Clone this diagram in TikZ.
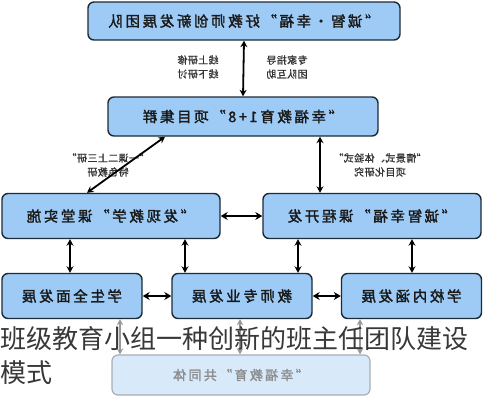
\documentclass[tikz,border=0pt]{standalone}
\usepackage{fontspec}
\usepackage{graphicx}
\usetikzlibrary{arrows.meta}
\newfontfamily\boxfont[LetterSpace=18,FakeBold=1.8]{Noto Sans CJK SC}
\newfontfamily\lblfont[LetterSpace=4,FakeBold=1.1]{Noto Sans CJK SC}
\newfontfamily\capfont{Noto Sans CJK SC}
\definecolor{boxfill}{HTML}{9DCBF6}
\definecolor{boxline}{HTML}{1E2A36}
\definecolor{fadefill}{HTML}{D8E9FA}
\definecolor{fadeline}{HTML}{A8AEB5}
\tikzset{
  bx/.style={draw=boxline,fill=boxfill,rounded corners=6pt,line width=1.4pt,inner sep=0pt,
    font=\boxfont\fontsize{14.5}{16}\selectfont,text=black!90},
  fadebx/.style={draw=fadeline,fill=fadefill,rounded corners=6pt,line width=1.2pt,inner sep=0pt,
    font=\boxfont\fontsize{13}{14}\selectfont,text=black!45},
  lbl/.style={font=\lblfont\fontsize{10}{14}\selectfont,text=black!80,align=center,inner sep=0pt},
  arr/.style={line width=1.8pt,draw=black,{Stealth[length=6.5pt,width=7pt]}-{Stealth[length=6.5pt,width=7pt]}},
  harr/.style={line width=2.2pt,draw=black,{Stealth[length=7pt,width=8pt]}-{Stealth[length=7pt,width=8pt]}},
  garr/.style={line width=1.7pt,draw=black!40,{Stealth[length=6pt,width=6.5pt]}-{Stealth[length=6pt,width=6.5pt]}},
}
\begin{document}
\begin{tikzpicture}[x=1pt,y=-1pt]
\useasboundingbox (0,0) rectangle (483,400);
% boxes
\node[bx,minimum width=312pt,minimum height=38pt] (top) at (244,21) {\reflectbox{“诚智·幸福”好教师创新发展团队}};
\node[bx,minimum width=270pt,minimum height=39pt] (mid) at (243,116.5) {\reflectbox{“幸福教育1+8”项目集群}};
\node[bx,minimum width=218pt,minimum height=45pt] (tl) at (111,216) {\reflectbox{“发现教学”课堂实施}};
\node[bx,minimum width=218pt,minimum height=45pt] (tr) at (372,216) {\reflectbox{“诚智幸福”课程开发}};
\node[bx,minimum width=140pt,minimum height=45pt] (b1) at (72,296) {\reflectbox{学生全面发展}};
\node[bx,minimum width=140pt,minimum height=45pt] (b2) at (242,296) {\reflectbox{教师专业发展}};
\node[bx,minimum width=140pt,minimum height=45pt] (b3) at (411.5,296) {\reflectbox{学校内涵发展}};
\node[fadebx,minimum width=258pt,minimum height=40pt] (fade) at (241,375) {\reflectbox{“幸福教育”共同体}};
% labels
\node[lbl] (l1) at (198,67) {\reflectbox{线上研修}\\\reflectbox{线下研讨}};
\node[lbl] (l2) at (287,67) {\reflectbox{专家指导}\\\reflectbox{团队互助}};
\node[lbl] (l3) at (108,165) {\reflectbox{“一课二上三研”}\\\reflectbox{特色教研}};
\node[lbl] (l4) at (380,165) {\reflectbox{“情景式、体验式”}\\\reflectbox{项目化研究}};
% arrows
\draw[arr] (top.south) -- (mid.north);
\draw[arr] ([xshift=-78pt]mid.south) -- ([xshift=-24pt]tl.north);
\draw[arr] ([xshift=77pt]mid.south) -- ([xshift=-52pt]tr.north);
\draw[harr] (tl.east) -- (tr.west);
\draw[arr] ([xshift=-41pt]tl.south) -- ([xshift=-2pt]b1.north);
\draw[arr] ([xshift=74pt]tl.south) -- ([xshift=-57pt]b2.north);
\draw[arr] ([xshift=-74pt]tr.south) -- ([xshift=56pt]b2.north);
\draw[arr] ([xshift=40pt]tr.south) -- ([xshift=0.5pt]b3.north);
\draw[harr] (b1.east) -- (b2.west);
\draw[harr] (b2.east) -- (b3.west);
\draw[garr] ([xshift=-121pt]fade.north) -- ([xshift=48pt]b1.south);
\draw[garr] ([xshift=-1pt]fade.north) -- ([xshift=-2pt]b2.south);
\draw[garr] ([xshift=119pt]fade.north) -- ([xshift=-51.5pt]b3.south);
% caption
\node[anchor=west,inner sep=0pt,font=\capfont\fontsize{26}{34}\selectfont,text=black!78] (cap1) at (0,339) {班级教育小组一种创新的班主任团队建设};
\node[anchor=west,inner sep=0pt,font=\capfont\fontsize{26}{34}\selectfont,text=black!78] (cap2) at (0,373) {模式};
\end{tikzpicture}
\end{document}
